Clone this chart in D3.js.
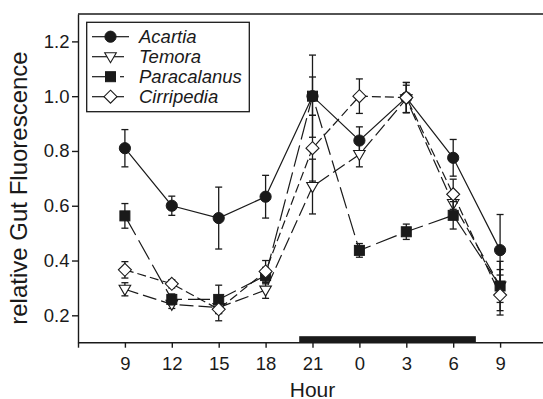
<!DOCTYPE html>
<html>
<head>
<meta charset="utf-8">
<script src="https://cdn.jsdelivr.net/npm/d3@7"></script>
<style>
  body { margin: 0; background: #fff; }
  svg { display: block; font-family: "Liberation Sans", Arial, sans-serif; }
</style>
</head>
<body>
<div id="chart"></div>
<script>
// sampling hours (continuous, 24 = midnight)
var hours = [9, 12, 15, 18, 21, 24, 27, 30, 33];
var tickValues = [6, 9, 12, 15, 18, 21, 24, 27, 30, 33];
var tickLabels = ["", "9", "12", "15", "18", "21", "0", "3", "6", "9"];
var yTicks = [0.2, 0.4, 0.6, 0.8, 1.0, 1.2];
var night = [20.15, 31.45];

var acartia      = [0.81, 0.60, 0.555, 0.633, 1.0, 0.838, 0.995, 0.775, 0.438];
var acartiaErr   = [0.068, 0.035, 0.113, 0.078, 0.15, 0.05, 0.055, 0.067, 0.13];
var temora       = [0.295, 0.24, 0.228, 0.292, 0.67, 0.787, 0.99, 0.608, 0.307];
var temoraErr    = [0.024, 0.015, 0.02, 0.03, 0.1, 0.045, 0.05, 0.04, 0.09];
var paracalanus  = [0.563, 0.258, 0.258, 0.345, 1.0, 0.437, 0.505, 0.565, 0.307];
var paracalErr   = [0.045, 0.02, 0.052, 0.03, 0.07, 0.025, 0.028, 0.05, 0.06];
var cirripedia   = [0.366, 0.315, 0.222, 0.36, 0.81, 1.0, 0.995, 0.642, 0.274];
var cirriErr     = [0.03, 0.015, 0.042, 0.04, 0.12, 0.063, 0.055, 0.055, 0.073];

var series = [
	{name: "Acartia", vals: acartia, err: acartiaErr, symbol: "circle", dash: null},
	{name: "Temora", vals: temora, err: temoraErr, symbol: "triangle", dash: "14,5"},
	{name: "Paracalanus", vals: paracalanus, err: paracalErr, symbol: "square", dash: "22,6"},
	{name: "Cirripedia", vals: cirripedia, err: cirriErr, symbol: "diamond", dash: "9,4"}
];

var W = 543, H = 399;
var plotLeft = 78, plotTop = 14, plotBottom = 342.7;
var ink = "#1a1a1a";

var svg = d3.select("#chart").append("svg").attr("width", W).attr("height", H);

var x = d3.scaleLinear().domain([6, 36]).range([plotLeft, plotLeft + 30 * 15.633]);
var y = d3.scaleLinear().domain([0.1, 1.3]).range([plotBottom, plotTop]);

// night bar
svg.append("rect")
	.attr("x", x(night[0])).attr("y", plotBottom - 6.5)
	.attr("width", x(night[1]) - x(night[0])).attr("height", 6.5)
	.attr("fill", ink);

// frame top
svg.append("line").attr("x1", plotLeft).attr("x2", W).attr("y1", plotTop).attr("y2", plotTop)
	.attr("stroke", ink).attr("stroke-width", 1.4);

// axes
var xAxis = d3.axisBottom(x).tickValues(tickValues).tickSize(5).tickPadding(9).tickSizeOuter(0)
	.tickFormat(function(d, i) { return tickLabels[i]; });
var gx = svg.append("g").attr("transform", "translate(0," + plotBottom + ")").call(xAxis);

var yAxis = d3.axisLeft(y).tickValues(yTicks).tickSize(6).tickPadding(2.5).tickSizeOuter(0)
	.tickFormat(d3.format(".1f"));
var gy = svg.append("g").attr("transform", "translate(" + plotLeft + ",0)").call(yAxis);

[gx, gy].forEach(function(g) {
	g.selectAll("path, line").attr("stroke", ink).attr("stroke-width", 1.4);
	g.selectAll("text").attr("fill", ink).style("font-size", "18.5px").attr("font-family", null);
});
gx.select(".domain").attr("d", "M" + plotLeft + ",0H" + W);

// axis titles
svg.append("text").attr("x", x(21)).attr("y", 396.5)
	.attr("text-anchor", "middle").style("font-size", "21px").attr("fill", ink).text("Hour");
svg.append("text").attr("transform", "translate(27,188) rotate(-90)")
	.attr("text-anchor", "middle").style("font-size", "24px").attr("fill", ink)
	.text("relative Gut Fluorescence");

function drawSymbol(g, type, cx, cy) {
	if (type == "circle") {
		g.append("circle").attr("cx", cx).attr("cy", cy).attr("r", 5.6)
			.attr("fill", ink).attr("stroke", ink).attr("stroke-width", 1);
	} else if (type == "square") {
		g.append("rect").attr("x", cx - 5).attr("y", cy - 5).attr("width", 10).attr("height", 10)
			.attr("fill", ink).attr("stroke", ink).attr("stroke-width", 1);
	} else if (type == "triangle") {
		g.append("path").attr("d", "M" + (cx - 5.8) + "," + (cy - 4) + "L" + (cx + 5.8) + "," + (cy - 4) + "L" + cx + "," + (cy + 6) + "Z")
			.attr("fill", "#fff").attr("stroke", ink).attr("stroke-width", 1.1);
	} else {
		g.append("path").attr("d", "M" + cx + "," + (cy - 6.5) + "L" + (cx + 6.5) + "," + cy + "L" + cx + "," + (cy + 6.5) + "L" + (cx - 6.5) + "," + cy + "Z")
			.attr("fill", "#fff").attr("stroke", ink).attr("stroke-width", 1.1);
	}
}

var line = d3.line().x(function(d) { return x(d[0]); }).y(function(d) { return y(d[1]); });

series.forEach(function(s) {
	var g = svg.append("g").attr("class", "series");
	var pts = hours.map(function(h, i) { return [h, s.vals[i], s.err[i]]; });

	g.append("path").datum(pts).attr("d", line)
		.attr("fill", "none").attr("stroke", ink).attr("stroke-width", 1.2)
		.attr("stroke-dasharray", s.dash);

	// error bars
	var eb = g.selectAll(".err").data(pts).enter().append("g").attr("class", "err");
	eb.append("line")
		.attr("x1", function(d) { return x(d[0]); }).attr("x2", function(d) { return x(d[0]); })
		.attr("y1", function(d) { return y(d[1] - d[2]); }).attr("y2", function(d) { return y(d[1] + d[2]); })
		.attr("stroke", ink).attr("stroke-width", 1.3);
	eb.append("line")
		.attr("x1", function(d) { return x(d[0]) - 3.5; }).attr("x2", function(d) { return x(d[0]) + 3.5; })
		.attr("y1", function(d) { return y(d[1] + d[2]); }).attr("y2", function(d) { return y(d[1] + d[2]); })
		.attr("stroke", ink).attr("stroke-width", 1.3);
	eb.append("line")
		.attr("x1", function(d) { return x(d[0]) - 3.5; }).attr("x2", function(d) { return x(d[0]) + 3.5; })
		.attr("y1", function(d) { return y(d[1] - d[2]); }).attr("y2", function(d) { return y(d[1] - d[2]); })
		.attr("stroke", ink).attr("stroke-width", 1.3);

	pts.forEach(function(d) { drawSymbol(g, s.symbol, x(d[0]), y(d[1])); });
});

// legend
var lg = svg.append("g");
lg.append("rect").attr("x", 86.7).attr("y", 22.3).attr("width", 162.6).attr("height", 89.4)
	.attr("fill", "#fff").attr("stroke", ink).attr("stroke-width", 1.3);
series.forEach(function(s, i) {
	var cy = 36.7 + i * 20;
	var rightEnd = i == 0 ? 129 : 124;
	lg.append("line").attr("x1", 92).attr("x2", 116).attr("y1", cy).attr("y2", cy)
		.attr("stroke", ink).attr("stroke-width", 1.2);
	lg.append("line").attr("x1", i == 2 ? 120 : 116).attr("x2", rightEnd).attr("y1", cy).attr("y2", cy)
		.attr("stroke", ink).attr("stroke-width", 1.2);
	drawSymbol(lg, s.symbol, 110.5, cy);
	lg.append("text").attr("x", 139).attr("y", cy + 6.5)
		.style("font-size", "18.5px").style("font-style", "italic").attr("fill", ink).text(s.name);
});
</script>
</body>
</html>
